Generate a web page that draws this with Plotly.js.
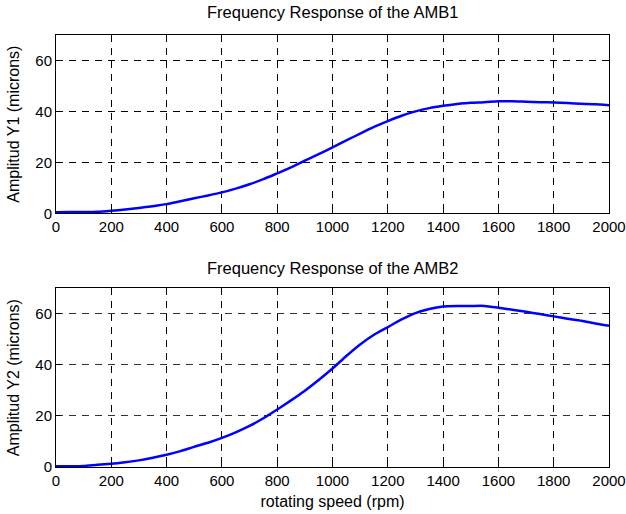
<!DOCTYPE html>
<html>
<head>
<meta charset="utf-8">
<script src="https://cdn.plot.ly/plotly-3.0.1.min.js"></script>
<style>html,body{margin:0;padding:0;background:#fff;}#chart{width:626px;height:514px;}</style>
</head>
<body>
<div id="chart"></div>
<script>
const speed = [0,50,100,150,200,250,300,350,400,450,500,550,600,650,700,750,800,850,900,950,1000,1050,1100,1150,1200,1250,1300,1350,1400,1450,1500,1550,1600,1650,1700,1750,1800,1850,1900,1950,2000];
const amb1 = [0.4,0.5,0.5,0.6,1.0,1.5,2.1,2.8,3.6,4.7,5.9,7.0,8.2,9.7,11.4,13.4,15.7,18.0,20.7,23.2,25.9,28.6,31.3,33.9,36.2,38.3,40.0,41.3,42.2,42.9,43.4,43.6,44.0,44.0,43.8,43.6,43.5,43.3,43.0,42.8,42.4];
const amb2 = [0.3,0.3,0.4,0.9,1.3,1.9,2.6,3.6,4.8,6.2,7.9,9.5,11.4,13.6,16.1,19.1,22.5,26.1,29.9,34.1,38.6,43.5,48.0,51.8,54.8,57.8,60.3,61.9,62.9,63.1,63.1,63.1,62.4,61.6,60.8,59.9,59.0,58.1,57.3,56.2,55.3];
const xTicks = [0,200,400,600,800,1000,1200,1400,1600,1800,2000];
const yTicks = [0,20,40,60];
const titles = ["Frequency Response of the AMB1","Frequency Response of the AMB2"];
const yTitles = ["Amplitud Y1 (microns)","Amplitud Y2 (microns)"];
const xTitle = "rotating speed (rpm)";

const FONT = "Liberation Sans, Arial, sans-serif";
const line = {color:'#0000ff', width:2.5, shape:'spline', smoothing:0.5};

const traces = [
  {x:speed, y:amb1, type:'scatter', mode:'lines', line:line, xaxis:'x', yaxis:'y', hoverinfo:'skip'},
  {x:speed, y:amb2, type:'scatter', mode:'lines', line:line, xaxis:'x2', yaxis:'y2', hoverinfo:'skip'}
];

function xa(anchor, title){
  return {anchor:anchor, range:[0,2000], tickvals:xTicks, ticktext:xTicks.map(String),
    showline:true, mirror:'ticks', linecolor:'#000', linewidth:1,
    ticks:'inside', ticklen:5, tickcolor:'#000',
    showgrid:true, gridcolor:'#000', gridwidth:1, griddash:'7px,6px',
    zeroline:false, tickfont:{family:FONT,size:15,color:'#000'},
    title: title ? {text:title, font:{family:FONT,size:16,color:'#000'}, standoff:7} : undefined,
    fixedrange:true, automargin:false};
}
function ya(anchor, dom, title, gcol){
  return {anchor:anchor, domain:dom, range:[0,70], tickvals:yTicks, ticktext:yTicks.map(String),
    showline:true, mirror:'ticks', linecolor:'#000', linewidth:1,
    ticks:'inside', ticklen:5, tickcolor:'#000',
    showgrid:true, gridcolor:gcol, gridwidth:1, griddash:'7px,6px',
    zeroline:false, tickfont:{family:FONT,size:15,color:'#000'},
    title:{text:title, font:{family:FONT,size:16,color:'#000'}, standoff:11},
    fixedrange:true, automargin:false};
}

const layout = {
  width:626, height:514,
  margin:{l:56, r:17, t:0, b:0},
  paper_bgcolor:'#fff', plot_bgcolor:'#fff',
  showlegend:false,
  xaxis: xa('y', null),
  yaxis: ya('x', [1-213.3/514, 1-35/514], yTitles[0], '#000'),
  xaxis2: xa('y2', xTitle),
  yaxis2: ya('x2', [1-467/514, 1-288.3/514], yTitles[1], '#333'),
  annotations:[
    {text:titles[0], xref:'paper', yref:'paper', x:0.5, y:1-12/514, xanchor:'center', yanchor:'middle', showarrow:false, font:{family:FONT,size:16.5,color:'#000'}},
    {text:titles[1], xref:'paper', yref:'paper', x:0.5, y:1-268/514, xanchor:'center', yanchor:'middle', showarrow:false, font:{family:FONT,size:16.5,color:'#000'}}
  ]
};
Plotly.newPlot('chart', traces, layout, {staticPlot:true, displayModeBar:false});
</script>
</body>
</html>
